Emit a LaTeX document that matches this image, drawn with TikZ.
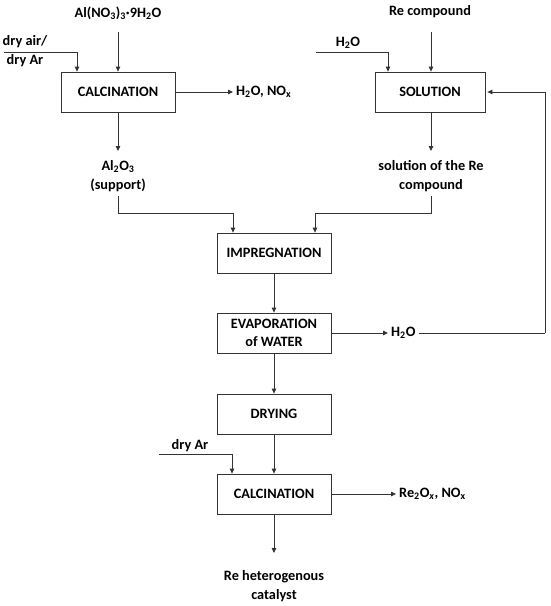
\documentclass[tikz,border=0pt]{standalone}
\usepackage{fontspec}
\setmainfont{Carlito}
\usetikzlibrary{arrows.meta}
\begin{document}
\begin{tikzpicture}[x=1pt,y=-1pt,
  every node/.style={font=\fontsize{14.3}{18.3}\selectfont\bfseries, text=black},
  procbox/.style={draw=black!80, line width=0.8pt, minimum width=114pt, minimum height=40pt, inner sep=0pt},
  lbl/.style={align=center, inner sep=0pt},
  arr/.style={draw=black!80, line width=0.8pt, -{Triangle[length=5pt,width=4.5pt]}},
  ln/.style={draw=black!80, line width=0.8pt}]
\useasboundingbox (0,0) rectangle (550,606);
% boxes
\node[procbox] (calc1) at (118,92) {CALCINATION};
\node[procbox, minimum width=110pt] (sol) at (430,92) {SOLUTION};
\node[procbox] (impreg) at (274,253) {IMPREGNATION};
\node[procbox, align=center] (evap) at (274,333) {EVAPORATION\\of WATER};
\node[procbox] (dry) at (274,414) {DRYING};
\node[procbox] (calc2) at (274,494) {CALCINATION};
% labels
\node[lbl] (alno) at (118,13) {Al(NO\textsubscript{3})\textsubscript{3}·9H\textsubscript{2}O};
\node[lbl] (dryair) at (25,51) {dry air/\\dry Ar};
\node[lbl, anchor=west] (h2onox) at (236,92) {H\textsubscript{2}O, NO\textsubscript{x}};
\node[lbl] (al2o3) at (118,176) {Al\textsubscript{2}O\textsubscript{3}\\(support)};
\node[lbl] (recomp) at (430,12) {Re compound};
\node[lbl] (h2oa) at (348,43) {H\textsubscript{2}O};
\node[lbl] (solre) at (431,176) {solution of the Re\\compound};
\node[lbl, anchor=west] (h2ob) at (391,333) {H\textsubscript{2}O};
\node[lbl] (dryar) at (190,446) {dry Ar};
\node[lbl, anchor=west] (re2ox) at (399,494) {Re\textsubscript{2}O\textsubscript{\itshape x}, NO\textsubscript{x}};
\node[lbl] (cat) at (274,586) {Re heterogenous\\catalyst};
% coordinates
\coordinate (alnoS) at (118,32);
\coordinate (daS) at (4,52);
\coordinate (aloN) at (118,151);
\coordinate (aloS) at (118,196);
\coordinate (aloB) at (233,213);
\coordinate (reS) at (431,32);
\coordinate (h2oS) at (316,52);
\coordinate (solN) at (431,151);
\coordinate (solS) at (431,196);
\coordinate (solB) at (315,213);
\coordinate (fbR) at (545,333);
\coordinate (daS2) at (159,454);
\coordinate (catN) at (274,553);
% connectors
\draw[arr] (alnoS) -- (calc1.north);
\draw[arr] (daS) -| ([xshift=-41pt]calc1.north);
\draw[arr] (calc1.east) -- ([xshift=-3pt]calc1.east -| h2onox.west);
\draw[arr] (calc1.south) -- (aloN);
\draw[ln] (aloS) |- (aloB);
\draw[arr] (aloB) -- (aloB |- impreg.north);
\draw[arr] (reS) -- (reS |- sol.north);
\draw[arr] (h2oS) -| ([xshift=-42pt]sol.north);
\draw[arr] (sol.south -| solN) -- (solN);
\draw[ln] (solS) |- (solB);
\draw[arr] (solB) -- (solB |- impreg.north);
\draw[arr] (impreg) -- (evap);
\draw[arr] (evap.east) -- ([xshift=-3pt]evap.east -| h2ob.west);
\draw[ln] ([xshift=3pt]h2ob.east) -- (fbR);
\draw[arr] (fbR) |- ([xshift=2pt]sol.east);
\draw[arr] (evap) -- (dry);
\draw[arr] (dry) -- (calc2);
\draw[arr] (daS2) -| ([xshift=-42pt]calc2.north);
\draw[arr] (calc2.east) -- ([xshift=-3pt]calc2.east -| re2ox.west);
\draw[arr] (calc2.south) -- (catN);
\end{tikzpicture}
\end{document}
